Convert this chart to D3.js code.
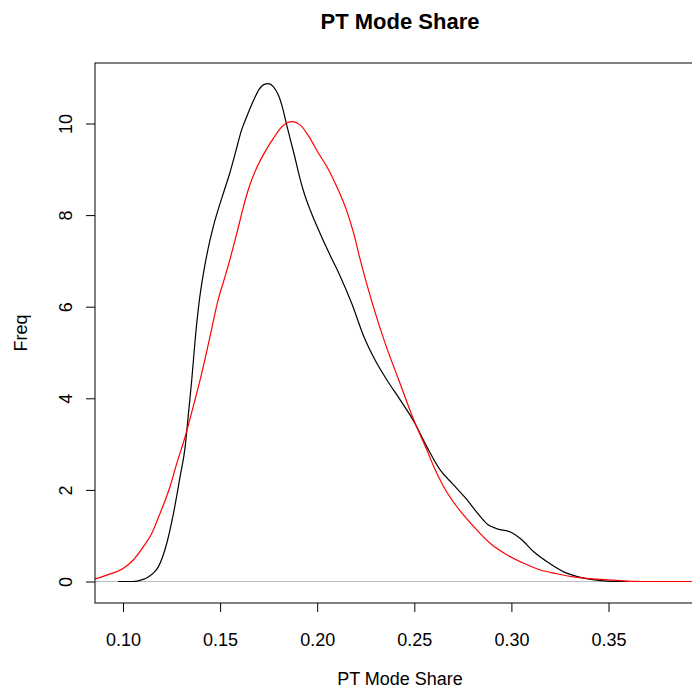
<!DOCTYPE html>
<html>
<head>
<meta charset="utf-8">
<script src="https://cdn.jsdelivr.net/npm/d3@7"></script>
<style>
  html, body { margin: 0; padding: 0; background: #fff; }
  svg { display: block; font-family: "Liberation Sans", Arial, Helvetica, sans-serif; }
</style>
</head>
<body>
<svg id="chart" width="692" height="691"></svg>
<script>
// Kernel density estimates of PT mode share: [share, density]
const observedDensity = [
  [0.0975, 0], [0.1050, 0], [0.1072, 0.01], [0.1100, 0.04], [0.1130, 0.10],
  [0.1160, 0.20], [0.1182, 0.32], [0.1205, 0.55], [0.1225, 0.83], [0.1260, 1.49],
  [0.1294, 2.29], [0.1320, 2.94], [0.1337, 3.67], [0.1354, 4.40], [0.1372, 5.30],
  [0.1392, 6.10], [0.1415, 6.75], [0.1440, 7.30], [0.1465, 7.75], [0.1490, 8.12],
  [0.1520, 8.52], [0.1550, 8.92], [0.1580, 9.38], [0.1610, 9.85], [0.1640, 10.18],
  [0.1672, 10.50], [0.1700, 10.74], [0.1725, 10.85], [0.1748, 10.87], [0.1775, 10.80],
  [0.1800, 10.62], [0.1820, 10.37], [0.1845, 9.93], [0.1880, 9.35], [0.1910, 8.82],
  [0.1935, 8.45], [0.1965, 8.10], [0.2015, 7.60], [0.2067, 7.12], [0.2120, 6.65],
  [0.2180, 6.05], [0.2240, 5.35], [0.2300, 4.82], [0.2359, 4.40], [0.2428, 3.96],
  [0.2497, 3.50], [0.2565, 2.94], [0.2634, 2.43], [0.2700, 2.12], [0.2760, 1.84],
  [0.2830, 1.47], [0.2880, 1.24], [0.2927, 1.15], [0.2995, 1.08], [0.3046, 0.94],
  [0.3115, 0.65], [0.3184, 0.43], [0.3270, 0.21], [0.3356, 0.09], [0.3420, 0.04],
  [0.3493, 0.01], [0.3600, 0]
];

const modelDensity = [
  [0.0856, 0.055], [0.0916, 0.14], [0.1002, 0.29], [0.1053, 0.47], [0.1105, 0.76],
  [0.1148, 1.05], [0.1191, 1.49], [0.1242, 2.07], [0.1277, 2.58], [0.1320, 3.16],
  [0.1354, 3.70], [0.1397, 4.40], [0.1444, 5.27], [0.1490, 6.15], [0.1525, 6.65],
  [0.1555, 7.10], [0.1586, 7.60], [0.1620, 8.18], [0.1650, 8.62], [0.1685, 9.00],
  [0.1723, 9.32], [0.1775, 9.68], [0.1818, 9.93], [0.1870, 10.04], [0.1912, 9.97],
  [0.1955, 9.73], [0.2007, 9.35], [0.2060, 8.98], [0.2105, 8.58], [0.2150, 8.12],
  [0.2188, 7.60], [0.2220, 7.05], [0.2282, 6.10], [0.2350, 5.20], [0.2420, 4.40],
  [0.2497, 3.53], [0.2565, 2.87], [0.2600, 2.51], [0.2651, 2.07], [0.2720, 1.63],
  [0.2806, 1.20], [0.2892, 0.83], [0.2978, 0.58], [0.3063, 0.40], [0.3149, 0.25],
  [0.3235, 0.17], [0.3321, 0.10], [0.3441, 0.05], [0.3596, 0.01], [0.3700, 0.0],
  [0.3950, 0.0]
];

const xTicks = [0.10, 0.15, 0.20, 0.25, 0.30, 0.35];
const yTicks = [0, 2, 4, 6, 8, 10];

const titleText = "PT Mode Share";
const xLabel = "PT Mode Share";
const yLabel = "Freq";

// Plot region (right edge runs past the visible canvas)
const box = { left: 95, top: 63, right: 705, bottom: 603 };

const x = d3.scaleLinear().domain([0.10, 0.35]).range([123, 608.5]);
const y = d3.scaleLinear().domain([0, 10]).range([581.5, 123.5]);

const svg = d3.select("#chart");

// Title
svg.append("text")
  .attr("x", (box.left + box.right) / 2)
  .attr("y", 28.5)
  .attr("text-anchor", "middle")
  .attr("font-weight", "bold")
  .attr("font-size", 22)
  .text(titleText);

svg.append("defs").append("clipPath").attr("id", "plotClip")
  .append("rect")
  .attr("x", box.left).attr("y", box.top)
  .attr("width", box.right - box.left).attr("height", box.bottom - box.top);

const plot = svg.append("g").attr("clip-path", "url(#plotClip)");

// Zero reference line
plot.append("line")
  .attr("x1", box.left).attr("x2", box.right)
  .attr("y1", y(0)).attr("y2", y(0))
  .attr("stroke", "#bebebe").attr("stroke-width", 1);

const line = d3.line()
  .x(d => x(d[0]))
  .y(d => y(d[1]))
  .curve(d3.curveMonotoneX);

plot.append("path")
  .datum(observedDensity)
  .attr("d", line)
  .attr("fill", "none")
  .attr("stroke", "#000")
  .attr("stroke-width", 1.2);

plot.append("path")
  .datum(modelDensity)
  .attr("d", line)
  .attr("fill", "none")
  .attr("stroke", "#ff0000")
  .attr("stroke-width", 1.2);

// Frame
svg.append("rect")
  .attr("x", box.left).attr("y", box.top)
  .attr("width", box.right - box.left).attr("height", box.bottom - box.top)
  .attr("fill", "none").attr("stroke", "#000").attr("stroke-width", 1);

// Bottom axis
const xAxis = d3.axisBottom(x)
  .tickValues(xTicks)
  .tickFormat(d3.format(".2f"))
  .tickSize(9)
  .tickPadding(21);

const gx = svg.append("g")
  .attr("transform", `translate(0,${box.bottom})`)
  .call(xAxis);
gx.select(".domain").remove();
gx.selectAll(".tick line").attr("stroke", "#000");
gx.selectAll(".tick text")
  .attr("font-size", 18)
  .attr("font-family", "Liberation Sans, Arial, sans-serif")
  .attr("fill", "#000");

// Left axis with rotated labels
const yAxis = d3.axisLeft(y)
  .tickValues(yTicks)
  .tickFormat(d3.format("d"))
  .tickSize(9);

const gy = svg.append("g")
  .attr("transform", `translate(${box.left},0)`)
  .call(yAxis);
gy.select(".domain").remove();
gy.selectAll(".tick line").attr("stroke", "#000");
gy.selectAll(".tick text")
  .attr("x", null).attr("dy", null)
  .attr("text-anchor", "middle")
  .attr("transform", "translate(-23,0) rotate(-90)")
  .attr("font-size", 18)
  .attr("font-family", "Liberation Sans, Arial, sans-serif")
  .attr("fill", "#000");

// Axis titles
svg.append("text")
  .attr("x", (box.left + box.right) / 2)
  .attr("y", 685)
  .attr("text-anchor", "middle")
  .attr("font-size", 18)
  .text(xLabel);

svg.append("text")
  .attr("transform", `translate(27,${(box.top + box.bottom) / 2}) rotate(-90)`)
  .attr("text-anchor", "middle")
  .attr("font-size", 18)
  .text(yLabel);
</script>
</body>
</html>
